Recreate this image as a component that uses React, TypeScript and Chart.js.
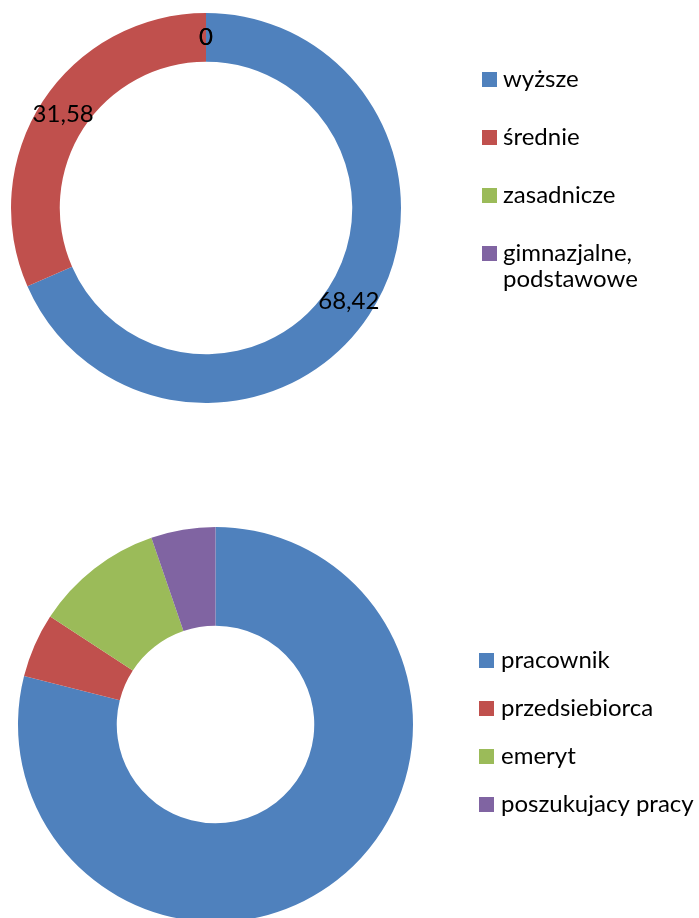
import React, { useEffect, useRef } from "react";
import { Chart, registerables } from "chart.js";

Chart.register(...registerables);

const educationLabels: (string | string[])[] = ["wyższe", "średnie", "zasadnicze", ["gimnazjalne,", "podstawowe"]];
const educationValues = [68.42, 31.58, 0, 0];

const statusLabels: (string | string[])[] = ["pracownik", "przedsiebiorca", "emeryt", "poszukujacy pracy"];
const statusValues = [78.95, 5.26, 10.53, 5.26];

const sliceColors = ["#4F81BD", "#C0504D", "#9BBB59", "#8064A2"];

const FONT_FAMILY = "Lato, 'Open Sans', sans-serif";

const sideLegendPlugin = {
  id: "sideLegend",
  afterDraw(chart: any, _args: any, opts: any) {
    if (!opts || !opts.display) return;
    const { ctx } = chart;
    const labels = chart.data.labels as (string | string[])[];
    const bg = chart.data.datasets[0].backgroundColor as string[];
    ctx.save();
    ctx.font = `${opts.fontSize}px ${FONT_FAMILY}`;
    ctx.textAlign = "left";
    ctx.textBaseline = "alphabetic";
    labels.forEach((lab, i) => {
      const top = opts.y + i * opts.step;
      ctx.fillStyle = bg[i];
      ctx.fillRect(opts.x, top, opts.box, opts.box);
      ctx.fillStyle = "#000";
      const lines = Array.isArray(lab) ? lab : [lab];
      lines.forEach((ln, j) => {
        ctx.fillText(ln, opts.textX, top + opts.box + j * opts.lineHeight);
      });
    });
    ctx.restore();
  },
};

const valueLabelPlugin = {
  id: "valueLabels",
  afterDatasetsDraw(chart: any, _args: any, opts: any) {
    if (!opts || !opts.display) return;
    const { ctx } = chart;
    const meta = chart.getDatasetMeta(0);
    const values = chart.data.datasets[0].data as number[];
    ctx.save();
    ctx.font = `${opts.fontSize}px ${FONT_FAMILY}`;
    ctx.fillStyle = "#000";
    ctx.textAlign = "center";
    ctx.textBaseline = "middle";
    meta.data.forEach((arc: any, i: number) => {
      const p = arc.tooltipPosition();
      const txt = String(values[i]).replace(".", ",");
      ctx.fillText(txt, p.x, p.y);
    });
    ctx.restore();
  },
};

function Donut(props: {
  labels: (string | string[])[];
  values: number[];
  width: number;
  height: number;
  cutout: string;
  padding: { left: number; top: number; right: number; bottom: number };
  legend: any;
  valueLabels: any;
}) {
  const ref = useRef<HTMLCanvasElement | null>(null);
  useEffect(() => {
    if (!ref.current) return;
    const chart = new Chart(ref.current, {
      type: "doughnut",
      data: {
        labels: props.labels as any,
        datasets: [
          {
            data: props.values,
            backgroundColor: sliceColors,
            borderWidth: 0,
            hoverOffset: 0,
          },
        ],
      },
      options: {
        animation: false,
        responsive: false,
        maintainAspectRatio: false,
        devicePixelRatio: 1,
        cutout: props.cutout,
        layout: { padding: props.padding },
        events: [],
        plugins: {
          legend: { display: false },
          tooltip: { enabled: false },
          sideLegend: props.legend,
          valueLabels: props.valueLabels,
        } as any,
      },
      plugins: [sideLegendPlugin, valueLabelPlugin],
    });
    return () => chart.destroy();
  }, []);
  return <canvas ref={ref} width={props.width} height={props.height} style={{ display: "block" }} />;
}

export default function App() {
  return (
    <div style={{ position: "absolute", left: 0, top: 0, width: 699, height: 918, overflow: "hidden", background: "#fff" }}>
      <div style={{ position: "absolute", left: 0, top: 0, width: 699, height: 459, overflow: "hidden" }}>
        <Donut
          labels={educationLabels}
          values={educationValues}
          width={699}
          height={459}
          cutout="75%"
          padding={{ left: 11, top: 13, right: 298, bottom: 56 }}
          legend={{ display: true, x: 482, y: 72, step: 58, box: 15, textX: 503, lineHeight: 26, fontSize: 24 }}
          valueLabels={{ display: true, fontSize: 24 }}
        />
      </div>
      <div style={{ position: "absolute", left: 0, top: 459, width: 699, height: 459, overflow: "hidden" }}>
        <Donut
          labels={statusLabels}
          values={statusValues}
          width={699}
          height={480}
          cutout="50%"
          padding={{ left: 18, top: 68, right: 286, bottom: 17 }}
          legend={{ display: true, x: 479, y: 194, step: 48, box: 15, textX: 501, lineHeight: 26, fontSize: 24 }}
          valueLabels={{ display: false }}
        />
      </div>
    </div>
  );
}
